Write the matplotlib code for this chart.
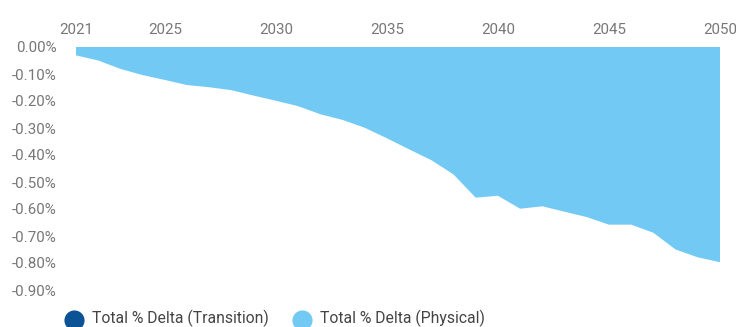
import matplotlib
matplotlib.use("Agg")
import matplotlib.pyplot as plt
from matplotlib.lines import Line2D
from matplotlib.ticker import FuncFormatter

plt.rcParams['font.family'] = ['Roboto', 'DejaVu Sans']

years = list(range(2021, 2051))
transition = [0.0] * 30
physical = [-0.031, -0.050, -0.081, -0.104, -0.122, -0.141, -0.149, -0.160, -0.180, -0.199,
            -0.219, -0.249, -0.270, -0.299, -0.338, -0.379, -0.419, -0.472, -0.558, -0.551,
            -0.599, -0.590, -0.610, -0.630, -0.658, -0.658, -0.688, -0.750, -0.779, -0.797]
x_ticks = [2021, 2025, 2030, 2035, 2040, 2045, 2050]
y_ticks = [0.0, -0.1, -0.2, -0.3, -0.4, -0.5, -0.6, -0.7, -0.8, -0.9]
series_names = ["Total % Delta (Transition)", "Total % Delta (Physical)"]
colors = ["#0B5394", "#72CAF4"]

W, H = 736, 327
fig = plt.figure(figsize=(W / 100, H / 100), dpi=100)
ax = fig.add_axes([76 / W, 1 - 290 / H, (720 - 76) / W, (290 - 47) / H])

ax.stackplot(years, transition, physical, colors=colors, linewidth=0)

ax.set_xlim(2021, 2050)
ax.set_ylim(-0.9, 0.0)
ax.set_xticks(x_ticks)
ax.set_yticks(y_ticks)
ax.yaxis.set_major_formatter(FuncFormatter(lambda v, p: f"{v:.2f}%"))
ax.xaxis.tick_top()
ax.tick_params(axis='both', length=0, labelsize=10.9, labelcolor="#777777")
ax.tick_params(axis='x', pad=7)
ax.tick_params(axis='y', pad=14)
for s in ax.spines.values():
    s.set_visible(False)

# legend drawn along the bottom edge
legend_x = [74, 302]
for xc, c, name in zip(legend_x, colors, series_names):
    fig.add_artist(Line2D([xc / W], [1 - 320 / H], marker='o', markersize=14.5,
                          color=c, markeredgewidth=0, linestyle='none',
                          transform=fig.transFigure))
    fig.text((xc + 18) / W, 1 - 318 / H, name, fontsize=11.3, color="#444444",
             va='center', ha='left')

fig.savefig("out.png", dpi=100)
